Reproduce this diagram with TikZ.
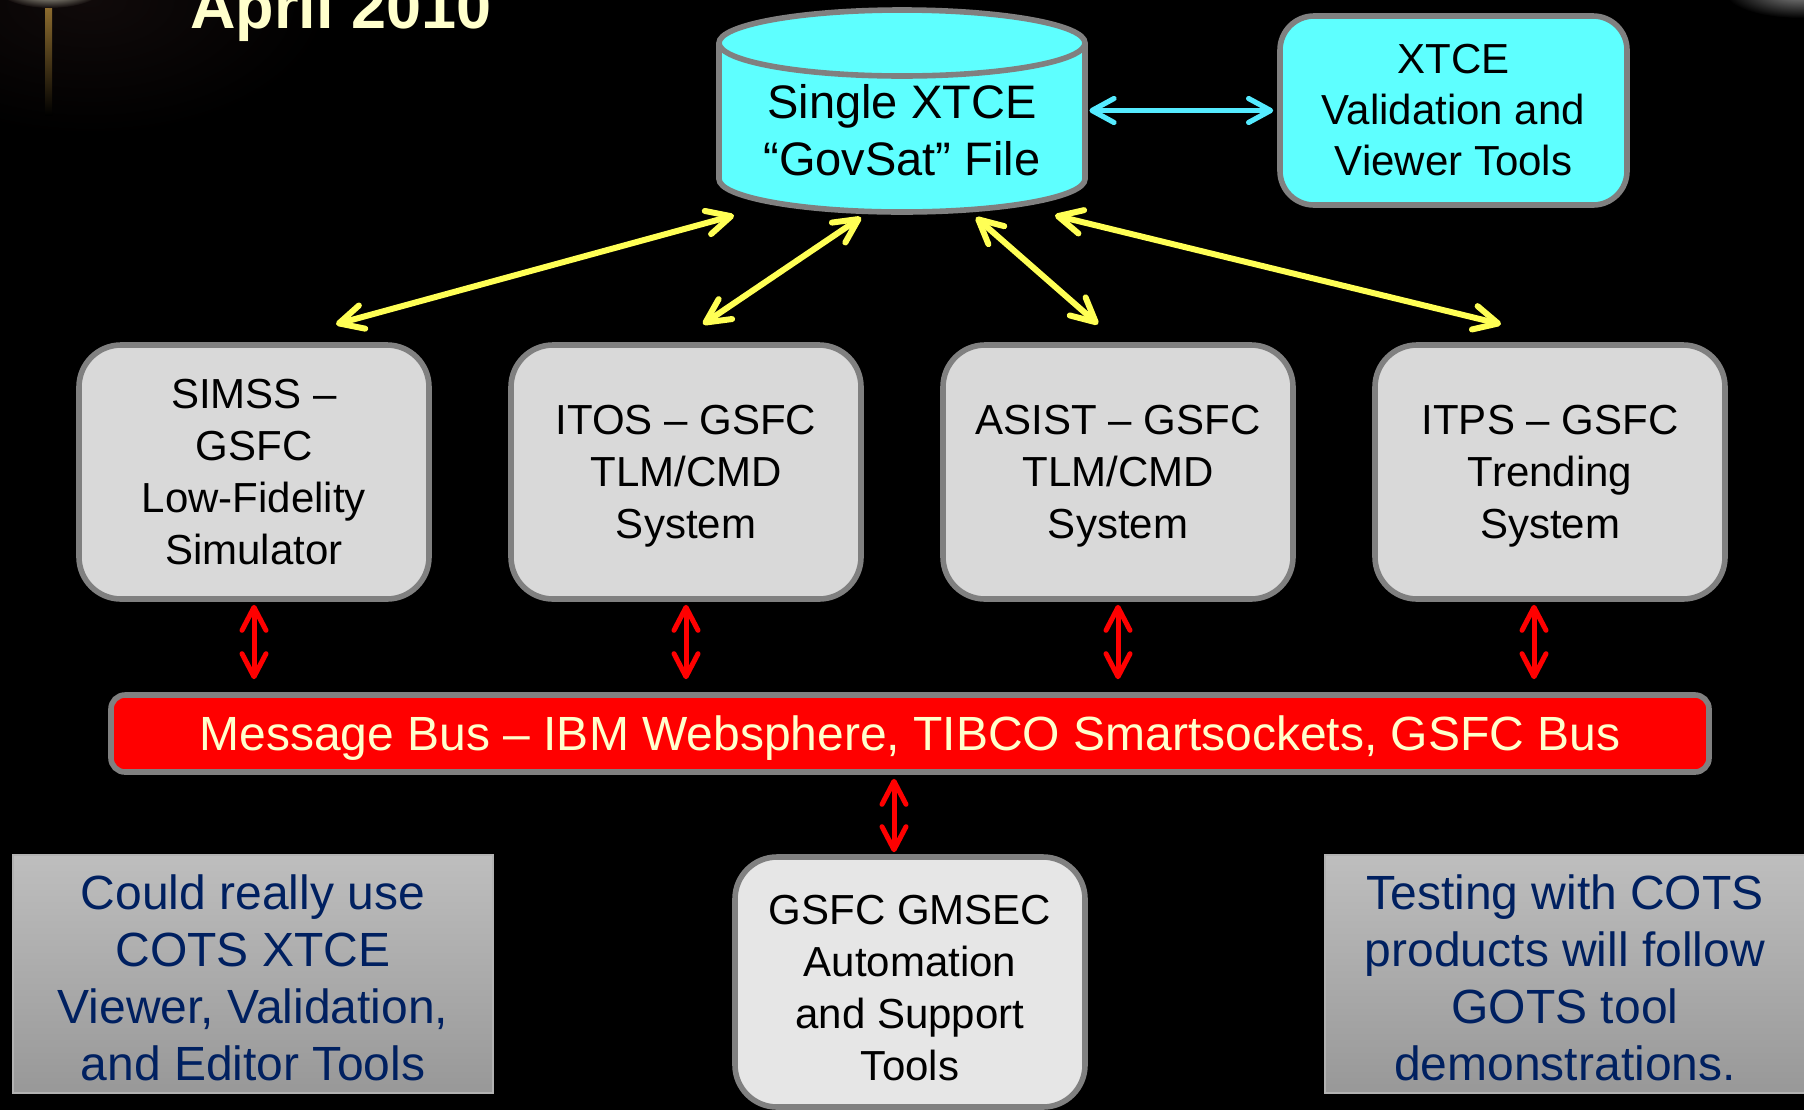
\documentclass[tikz,border=0pt]{standalone}
\usepackage{fontspec}
\setmainfont{Liberation Sans}
\usepackage{tikz}
\usetikzlibrary{arrows.meta,calc}

\definecolor{govcyan}{RGB}{94,255,255}
\definecolor{rimgray}{RGB}{128,128,128}
\definecolor{boxgray}{RGB}{217,217,217}
\definecolor{gmsecgray}{RGB}{230,230,230}
\definecolor{busred}{RGB}{255,0,0}
\definecolor{cream}{RGB}{255,255,204}
\definecolor{linkyellow}{RGB}{255,255,85}
\definecolor{linkcyan}{RGB}{85,235,255}
\definecolor{notenavy}{RGB}{0,32,96}
\definecolor{notetop}{RGB}{190,190,190}
\definecolor{notebottom}{RGB}{152,152,152}
\definecolor{haze}{RGB}{16,10,10}
\definecolor{streakgold}{RGB}{150,115,50}

\begin{document}
\begin{tikzpicture}[x=0.5pt, y=-0.5pt,
		sysbox/.style={draw=rimgray, line width=2.8pt, fill=boxgray, rounded corners=21pt, minimum width=175pt, minimum height=127pt, align=center, text depth=0pt, font=\fontsize{21pt}{26pt}\selectfont},
		toolbox/.style={draw=rimgray, line width=2.8pt, fill=govcyan, rounded corners=17pt, minimum width=173.5pt, minimum height=94.5pt, align=center, font=\fontsize{21pt}{25.5pt}\selectfont},
		govtext/.style={minimum width=186pt, minimum height=85pt, align=center, font=\fontsize{23.5pt}{28.5pt}\selectfont},
		busbox/.style={draw=rimgray, line width=2.8pt, fill=busred, rounded corners=7pt, minimum width=799pt, minimum height=38.5pt, text depth=0pt, text=cream, font=\fontsize{24pt}{28pt}\selectfont},
		notebox/.style={top color=notetop, bottom color=notebottom, draw=gray!60, line width=0.8pt, minimum width=240pt, minimum height=119pt, align=center, text=notenavy, font=\fontsize{24pt}{28.5pt}\selectfont},
		yarrow/.style={draw=linkyellow, line width=3pt, line cap=round, >={Straight Barb[length=12pt,width=12pt,round]}, <->},
		carrow/.style={draw=linkcyan, line width=2.6pt, line cap=round, >={Straight Barb[length=11pt,width=12pt,round]}, <->},
		rarrow/.style={draw=busred, line width=2.5pt, line cap=round, >={Straight Barb[length=11.5pt,width=12pt,round]}, <->}]
	\useasboundingbox (0, 0) rectangle (1804, 1110);
	\fill[black] (0, 0) rectangle (1804, 1110);
	\shade[inner color=haze, outer color=black] (90, 0) ellipse (240 and 135);
	\shade[top color=streakgold, bottom color=black] (45, 0) rectangle (52, 115);
	\shade[inner color=white!90!yellow, outer color=haze] (50, -14) ellipse (55 and 22);
	\shade[inner color=gray!90, outer color=black] (1800, -8) ellipse (75 and 26);

	\node (date) at (190, 28) [anchor=base west, inner sep=0pt, text=cream, font=\fontsize{31.5pt}{36pt}\selectfont\bfseries] {April 2010};

	\filldraw[fill=govcyan, draw=rimgray, line width=2.8pt] (902, 179) ellipse (183 and 33);
	\fill[govcyan] (719, 43) rectangle (1085, 179);
	\draw[rimgray, line width=2.8pt] (719, 43) -- (719, 179) (1085, 43) -- (1085, 179);
	\filldraw[fill=govcyan, draw=rimgray, line width=2.8pt] (902, 43) ellipse (183 and 33);
	\node (gov) at (902, 130) [govtext] {Single XTCE\\“GovSat” File};
	\node (tools) at (1453.5, 110.5) [toolbox] {XTCE\\Validation and\\Viewer Tools};

	\node (simss) at (254, 472) [sysbox] {SIMSS --\\GSFC\\Low-Fidelity\\Simulator};
	\node (itos) at (686, 472) [sysbox] {ITOS -- GSFC\\TLM/CMD\\System};
	\node (asist) at (1118, 472) [sysbox] {ASIST -- GSFC\\TLM/CMD\\System};
	\node (itps) at (1550, 472) [sysbox] {ITPS -- GSFC\\Trending\\System};

	\node (bus) at (910, 733.5) [busbox] {Message Bus -- IBM Websphere, TIBCO Smartsockets, GSFC Bus};
	\node (gmsec) at (910, 982) [sysbox, fill=gmsecgray, minimum height=125pt] {\rule{0pt}{20pt}GSFC GMSEC\\Automation\\and Support\\Tools};

	\node (cotsnote) at (253, 974) [notebox] {\rule{0pt}{21pt}Could really use\\COTS XTCE\\Viewer, Validation,\\and Editor Tools};
	\node (testnote) at (1565, 974) [notebox] {\rule{0pt}{21pt}Testing with COTS\\products will follow\\GOTS tool\\demonstrations.};

	\draw [carrow] ($(gov.east |- tools.west)+(1, 0)$) to ($(tools.west)+(-4, 0)$);
	\draw [yarrow] ($(gov.south)+(-168, 0)$) to ($(simss.north)+(82, -18)$);
	\draw [yarrow] ($(gov.south)+(-41, 2)$) to ($(itos.north)+(17, -18)$);
	\draw [yarrow] ($(gov.south)+(74, 2)$) to ($(asist.north)+(-20, -18)$);
	\draw [yarrow] ($(gov.south)+(153, 0)$) to ($(itps.north)+(-49, -18)$);

	\draw [rarrow] ($(simss.south)+(0, 3)$) to ($(simss.south |- bus.north)+(0, -13)$);
	\draw [rarrow] ($(itos.south)+(0, 3)$) to ($(itos.south |- bus.north)+(0, -13)$);
	\draw [rarrow] ($(asist.south)+(0, 3)$) to ($(asist.south |- bus.north)+(0, -13)$);
	\draw [rarrow] ($(itps.south)+(-16, 3)$) to ($(itps.south |- bus.north)+(-16, -13)$);
	\draw [rarrow] ($(bus.south)+(-16, 4)$) to ($(gmsec.north)+(-16, -2)$);
\end{tikzpicture}
\end{document}
